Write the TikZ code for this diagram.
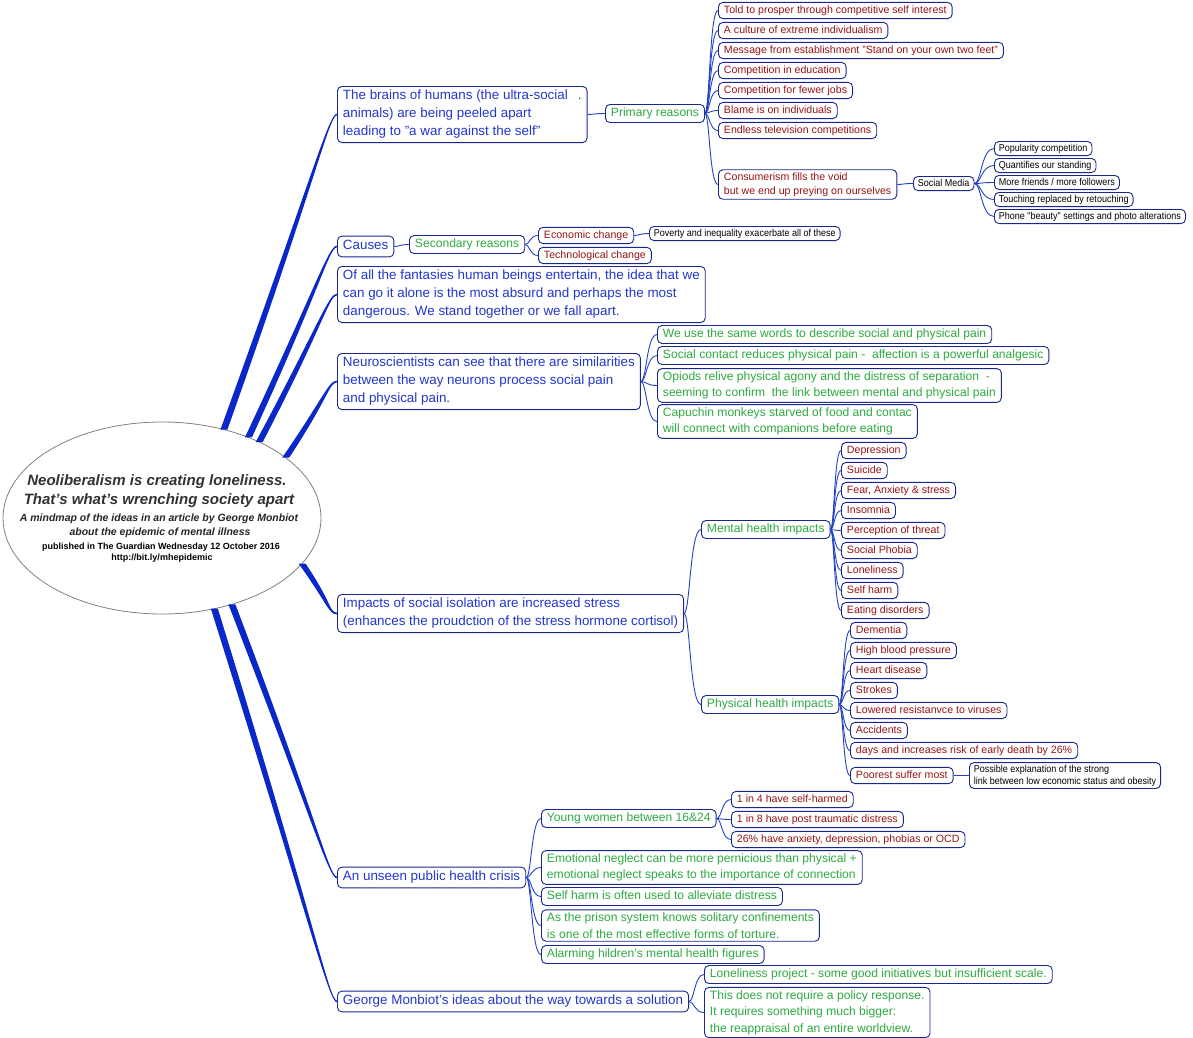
\documentclass[tikz,border=0pt]{standalone}
\usepackage{fontspec}
\setmainfont{Liberation Sans}
\newfontfamily\narrowfont{Liberation Sans}[FakeStretch=0.9]
\usetikzlibrary{calc,shapes.geometric}
\definecolor{bluet}{RGB}{35,55,205}
\definecolor{greent}{RGB}{45,170,65}
\definecolor{redt}{RGB}{150,20,20}
\definecolor{boxc}{RGB}{25,40,140}
\definecolor{linec}{RGB}{35,65,195}
\definecolor{branchc}{RGB}{10,40,200}
\definecolor{titlec}{RGB}{50,50,50}
% #1 signed end half-width, #2 signed control offset, #3 start, #4 end
\newcommand\mainbranch[4]{%
  \fill[branchc] ($(#3)+(-3.5,0)$) .. controls ($(#3)!0.8!(#4)+(-2.6,0)$) and ($(#4)+(-8,#2)$) .. ($(#4)+(0,#1)$)
    -- ($(#4)-(0,#1)$) .. controls ($(#4)+(-8,0)-(0,#2)$) and ($(#3)!0.8!(#4)+(2.6,0)$) .. ($(#3)+(3.5,0)$) -- cycle;}
\tikzset{
  box/.style={draw=boxc, line width=0.9pt, rounded corners=4.5pt, fill=white, anchor=west, align=left, yshift=-1.5pt},
  lvA/.style={box, text=bluet, font=\fontsize{13.4}{18}\selectfont, inner xsep=5.5pt, inner ysep=3.8pt, text height=10pt, text depth=3.2pt},
  lvG/.style={box, text=greent, font=\fontsize{12.1}{16.5}\selectfont, inner xsep=5.5pt, inner ysep=3pt, text height=9pt, text depth=3pt},
  lvR/.style={box, text=redt, font=\fontsize{10.6}{14}\selectfont, inner xsep=5.5pt, inner ysep=2.8pt, text height=8pt, text depth=2.6pt},
  lvK/.style={box, text=black, font=\narrowfont\fontsize{10}{12}\selectfont, inner xsep=4.5pt, inner ysep=2.3pt, text height=7.3pt, text depth=2.2pt},
  ml/.style={text height={}, text depth={}},
  conn/.style={draw=linec, line width=0.9pt, to path={let \p1=(\tikztostart), \p2=(\tikztotarget) in
      .. controls (\x1+0.35*\x2-0.35*\x1, \y1) and (\x1+0.35*\x2-0.35*\x1, \y2) .. (\tikztotarget)}},
  rootell/.style={ellipse, draw=gray, fill=white, line width=0.8pt, minimum width=318pt, minimum height=192pt, inner sep=0pt, outer sep=0pt},
  rt/.style={inner sep=0pt, text=titlec, anchor=center},
}
\begin{document}
\begin{tikzpicture}[x=1pt,y=-1pt]
\useasboundingbox (0,0) rectangle (1193,1037);
% root
\node[rootell] (root) at (162,518) {};
\node[rt, font=\bfseries\itshape\fontsize{15}{18}\selectfont] (r1) at (157,482) {Neoliberalism is creating loneliness.};
\node[rt, font=\bfseries\itshape\fontsize{15}{18}\selectfont] (r2) at (159,501) {That’s what’s wrenching society apart};
\node[rt, text=black!85, font=\bfseries\itshape\fontsize{10.5}{12}\selectfont] (r3) at (159,519) {A mindmap of the ideas in an article by George Monbiot};
\node[rt, text=black!85, font=\bfseries\itshape\fontsize{10.5}{12}\selectfont] (r4) at (160,533) {about the epidemic of mental illness};
\node[rt, text=black, font=\bfseries\fontsize{9}{11}\selectfont] (r5) at (161,547) {published in The Guardian Wednesday 12 October 2016};
\node[rt, text=black, font=\bfseries\fontsize{9}{11}\selectfont] (r6) at (162,558) {http://bit.ly/mhepidemic};
% level 1
\node[lvA, ml] (m1) at (337,113) {The brains of humans (the ultra-social\hspace{10pt}.\\animals) are being peeled apart\\leading to "a war against the self"};
\node[lvA] (m2) at (337,245) {Causes};
\node[lvA, ml] (m3) at (337,293) {Of all the fantasies human beings entertain, the idea that we\\can go it alone is the most absurd and perhaps the most\\dangerous. We stand together or we fall apart.};
\node[lvA, ml] (m4) at (337,380) {Neuroscientists can see that there are similarities\\between the way neurons process social pain\\and physical pain.};
\node[lvA, ml] (m5) at (337,612) {Impacts of social isolation are increased stress\\(enhances the proudction of the stress hormone cortisol)};
\node[lvA] (m6) at (337,876) {An unseen public health crisis};
\node[lvA] (m7) at (337,1000) {George Monbiot's ideas about the way towards a solution};
% primary reasons
\node[lvG] (g1) at (605,112) {Primary reasons};
\foreach \t [count=\i] in {Told to prosper through competitive self interest, A culture of extreme individualism,
  Message from establishment "Stand on your own two feet", Competition in education, Competition for fewer jobs,
  Blame is on individuals, Endless television competitions}
  \node[lvR] (p\i) at (718,-11+20*\i) {\t};
\node[lvR, ml] (p8) at (718,183) {Consumerism fills the void\\but we end up preying on ourselves};
\node[lvK] (sm) at (913,182) {Social Media};
\foreach \t [count=\i] in {Popularity competition, Quantifies our standing, More friends / more followers,
  Touching replaced by retouching, Phone "beauty" settings and photo alterations}
  \node[lvK] (q\i) at (994,130+17*\i) {\t};
% secondary reasons
\node[lvG] (g2) at (409,243) {Secondary reasons};
\node[lvR] (ec) at (538,234) {Economic change};
\node[lvR] (tc) at (538,254) {Technological change};
\node[lvK] (pov) at (649,232) {Poverty and inequality exacerbate all of these};
% neuroscience
\node[lvG] (n1) at (657,333) {We use the same words to describe social and physical pain};
\node[lvG] (n2) at (657,354) {Social contact reduces physical pain -\ \ affection is a powerful analgesic};
\node[lvG, ml] (n3) at (657,384) {Opiods relive physical agony and the distress of separation\ \ -\\seeming to confirm\ \ the link between mental and physical pain};
\node[lvG, ml] (n4) at (657,420) {Capuchin monkeys starved of food and contac\\will connect with companions before eating};
% impacts
\node[lvG] (mh) at (701,528) {Mental health impacts};
\node[lvG] (ph) at (701,703) {Physical health impacts};
\foreach \t [count=\i] in {Depression, Suicide, {Fear, Anxiety \& stress}, Insomnia, Perception of threat,
  Social Phobia, Loneliness, Self harm, Eating disorders}
  \node[lvR] (d\i) at (841,429+20*\i) {\t};
\foreach \t [count=\i] in {Dementia, High blood pressure, Heart disease, Strokes, Lowered resistanvce to viruses,
  Accidents, days and increases risk of early death by 26\%}
  \node[lvR] (h\i) at (850,609+20*\i) {\t};
\node[lvR] (h8) at (850,774) {Poorest suffer most};
\node[lvK, ml] (pe) at (969,774) {Possible explanation of the strong\\link between low economic status and obesity};
% unseen crisis
\node[lvG] (yw) at (541,817) {Young women between 16\&24};
\node[lvR] (y1) at (731,798) {1 in 4 have self-harmed};
\node[lvR] (y2) at (731,818) {1 in 8 have post traumatic distress};
\node[lvR] (y3) at (731,838) {26\% have anxiety, depression, phobias or OCD};
\node[lvG, ml] (u2) at (541,866) {Emotional neglect can be more pernicious than physical +\\emotional neglect speaks to the importance of connection};
\node[lvG] (u3) at (541,895) {Self harm is often used to alleviate distress};
\node[lvG, ml] (u4) at (541,924) {As the prison system knows solitary confinements\\is one of the most effective forms of torture.};
\node[lvG] (u5) at (541,953) {Alarming hildren's mental health figures};
% solution
\node[lvG] (s1) at (704,973) {Loneliness project - some good initiatives but insufficient scale.};
\node[lvG, ml] (s2) at (704,1011) {This does not require a policy response.\\It requires something much bigger:\\the reappraisal of an entire worldview.};
% main tapered branches
\mainbranch{-0.8}{-1.4}{root.55}{m1.west}
\mainbranch{-0.8}{-1.4}{root.43}{m2.west}
\mainbranch{-0.8}{-1.4}{root.38}{m3.west}
\mainbranch{-0.8}{-1.4}{root.26}{m4.west}
\mainbranch{0.8}{1.4}{root.-18}{m5.west}
\mainbranch{0.8}{1.4}{root.-51}{m6.west}
\mainbranch{0.8}{1.4}{root.-60}{m7.west}
% connectors
\draw[conn] (m1.east) to (g1.west);
\foreach \i in {1,...,8} \draw[conn] (g1.east) to (p\i.west);
\draw[conn] (p8.east) to (sm.west);
\foreach \i in {1,...,5} \draw[conn] (sm.east) to (q\i.west);
\draw[conn] (m2.east) to (g2.west);
\draw[conn] (g2.east) to (ec.west);
\draw[conn] (g2.east) to (tc.west);
\draw[conn] (ec.east) to (pov.west);
\foreach \i in {1,...,4} \draw[conn] (m4.east) to (n\i.west);
\draw[conn] (m5.east) to (mh.west);
\draw[conn] (m5.east) to (ph.west);
\foreach \i in {1,...,9} \draw[conn] (mh.east) to (d\i.west);
\foreach \i in {1,...,8} \draw[conn] (ph.east) to (h\i.west);
\draw[conn] (h8.east) to (pe.west);
\draw[conn] (m6.east) to (yw.west);
\foreach \k in {2,3,4,5} \draw[conn] (m6.east) to (u\k.west);
\foreach \i in {1,2,3} \draw[conn] (yw.east) to (y\i.west);
\draw[conn] (m7.east) to (s1.west);
\draw[conn] (m7.east) to (s2.west);
\end{tikzpicture}
\end{document}
